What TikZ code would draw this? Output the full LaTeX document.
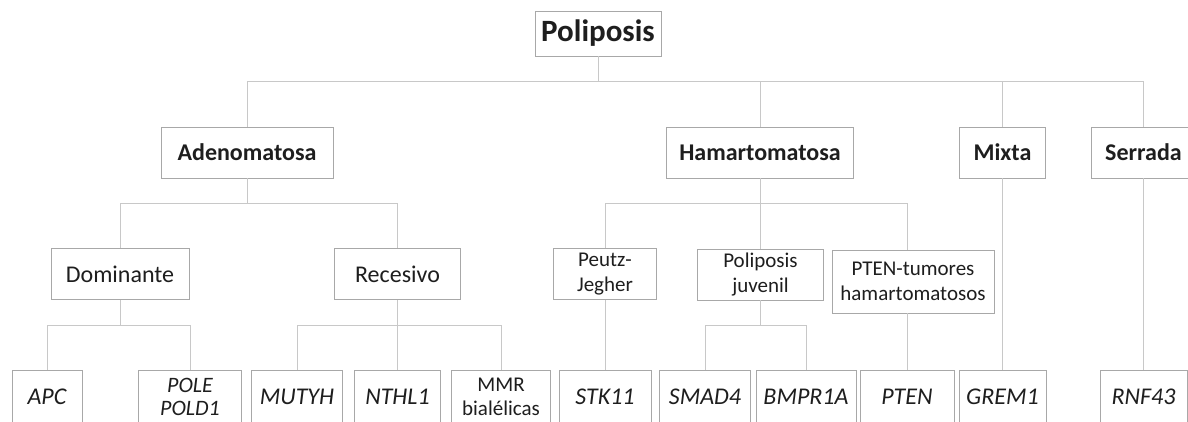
\documentclass[tikz,border=0pt]{standalone}
\usepackage{fontspec}
\setmainfont{Carlito}
\definecolor{boxline}{HTML}{A8A8A8}
\definecolor{linkline}{HTML}{C8C8C8}
\definecolor{ink}{HTML}{1E1E1E}

\begin{document}
\begin{tikzpicture}[x=1pt, y=-1pt,
    tbox/.style={draw=boxline, line width=0.9pt, fill=white, text=ink, inner sep=0pt, align=center},
    root/.style={tbox, font=\fontsize{31}{36}\selectfont\bfseries, minimum width=126pt, minimum height=45pt},
    famil/.style={tbox, font=\fontsize{24}{29}\selectfont\bfseries, minimum height=51pt},
    herit/.style={tbox, font=\fontsize{24}{29}\selectfont, minimum height=51pt},
    syndr/.style={tbox, font=\fontsize{21}{25}\selectfont},
    gene/.style={tbox, font=\fontsize{24}{25}\selectfont\itshape, minimum height=54pt},
    link/.style={draw=linkline, line width=0.9pt}]
    \useasboundingbox (0,0) rectangle (1188,421);
    \clip (0,0) rectangle (1188,421);

    % raiz y familias
    \node[root] (polip) at (598,33.5) {Poliposis};
    \node[famil, minimum width=172pt] (adeno) at (247,152.5) {Adenomatosa};
    \node[famil, minimum width=187pt] (hamar) at (760,152.5) {Hamartomatosa};
    \node[famil, minimum width=86pt] (mixta) at (1002.5,152.5) {Mixta};
    \node[famil, minimum width=104pt] (serra) at (1143.5,152.5) {Serrada};

    % herencia y sindromes
    \node[herit, minimum width=138pt] (domin) at (120,274) {Dominante};
    \node[herit, minimum width=126pt] (reces) at (397.5,274) {Recesivo};
    \node[syndr, minimum width=103pt, minimum height=51pt] (peutz) at (605,274) {Peutz-\\Jegher};
    \node[syndr, minimum width=126pt, minimum height=51pt] (juven) at (760.5,274.5) {Poliposis\\juvenil};
    \node[syndr, minimum width=162pt, minimum height=63pt] (ptent) at (913,281.5) {PTEN-tumores\\hamartomatosos};

    % genes
    \node[gene, minimum width=70pt] (apc) at (47,397) {APC};
    \node[gene, minimum width=103pt, font=\fontsize{22}{23}\selectfont\itshape] (pole) at (190,397) {POLE\\POLD1};
    \node[gene, minimum width=91pt] (mutyh) at (297,397) {MUTYH};
    \node[gene, minimum width=86pt] (nthl) at (397.5,397) {NTHL1};
    \node[gene, minimum width=99pt, font=\fontsize{21}{24}\selectfont] (mmr) at (501,397) {MMR\\bialélicas};
    \node[gene, minimum width=92pt] (stk) at (605,397) {STK11};
    \node[gene, minimum width=91pt] (smad) at (705,397) {SMAD4};
    \node[gene, minimum width=100pt] (bmpr) at (806,397) {BMPR1A};
    \node[gene, minimum width=94pt] (pten) at (907,397) {PTEN};
    \node[gene, minimum width=87pt] (grem) at (1002.5,397) {GREM1};
    \node[gene, minimum width=87pt] (rnf) at (1143.5,397) {RNF43};

    % conectores
    \draw[link] (polip.south) -- ++(0,25) coordinate (jpolip);
    \draw[link] (jpolip) -| (adeno.north);
    \draw[link] (jpolip) -| (hamar.north);
    \draw[link] (jpolip) -| (mixta.north);
    \draw[link] (jpolip) -| (serra.north);

    \draw[link] (adeno.south) -- ++(0,24.5) coordinate (jadeno);
    \draw[link] (jadeno) -| (domin.north);
    \draw[link] (jadeno) -| (reces.north);

    \draw[link] (hamar.south) -- ++(0,24.5) coordinate (jhamar);
    \draw[link] (jhamar) -| (peutz.north);
    \draw[link] (jhamar) -| (juven.north);
    \draw[link] (jhamar) -| (ptent.north -| pten.north);

    \draw[link] (domin.south) -- ++(0,25.5) coordinate (jdomin);
    \draw[link] (jdomin) -| (apc.north);
    \draw[link] (jdomin) -| (pole.north);

    \draw[link] (reces.south) -- ++(0,25.5) coordinate (jreces);
    \draw[link] (jreces) -| (mutyh.north);
    \draw[link] (jreces) -| (nthl.north);
    \draw[link] (jreces) -| (mmr.north);

    \draw[link] (juven.south) -- ++(0,25) coordinate (jjuven);
    \draw[link] (jjuven) -| (smad.north);
    \draw[link] (jjuven) -| (bmpr.north);

    \draw[link] (peutz.south) -- (stk.north);
    \draw[link] (ptent.south -| pten.north) -- (pten.north);
    \draw[link] (mixta.south) -- (grem.north);
    \draw[link] (serra.south) -- (rnf.north);
\end{tikzpicture}
\end{document}
